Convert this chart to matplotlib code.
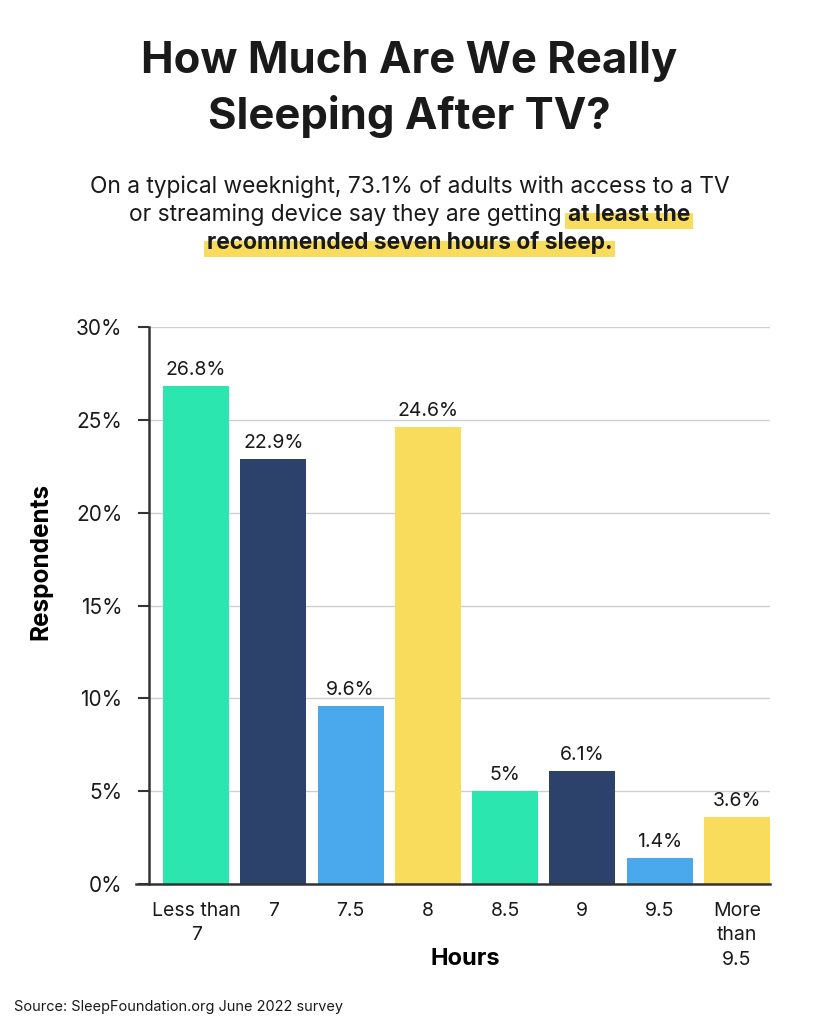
import matplotlib
matplotlib.use("Agg")
import matplotlib.pyplot as plt
from matplotlib.patches import Rectangle

# data
categories = ["Less than\n7", "7", "7.5", "8", "8.5", "9", "9.5", "More\nthan\n9.5"]
values = [26.8, 22.9, 9.6, 24.6, 5.0, 6.1, 1.4, 3.6]
value_labels = ["26.8%", "22.9%", "9.6%", "24.6%", "5%", "6.1%", "1.4%", "3.6%"]
yticks = [0, 5, 10, 15, 20, 25, 30]
ytick_labels = ["0%", "5%", "10%", "15%", "20%", "25%", "30%"]

teal = "#2ce6b0"
navy = "#2c426b"
blue = "#4aa8ec"
yellow = "#f9dc5c"
bar_colors = [teal, navy, blue, yellow, teal, navy, blue, yellow]

plt.rcParams['font.family'] = ['Inter', 'DejaVu Sans']

W, H = 819, 1024
fig = plt.figure(figsize=(W / 100, H / 100), dpi=100)
fig.patch.set_facecolor("white")

ax = fig.add_axes([149 / W, 1 - 884 / H, 621 / W, 557 / H])
x = list(range(len(categories)))
ax.bar(x, values, width=0.855, color=bar_colors, zorder=3)
for xi, v, lab in zip(x, values, value_labels):
    ax.annotate(lab, (xi, v), xytext=(0, 5), textcoords="offset points",
                ha="center", va="bottom", fontsize=14, color="#1a1a1a")

ax.set_xlim(-0.61, 7.43)
ax.set_ylim(0, 30)
ax.set_yticks(yticks)
ax.set_yticklabels(ytick_labels, fontsize=15, color="#1a1a1a")
ax.set_xticks(x)
ax.set_xticklabels(categories, fontsize=14, color="#1a1a1a", linespacing=1.45, va="top")
ax.tick_params(axis="y", length=8, width=1.5, color="#333333", pad=11)
ax.tick_params(axis="x", length=0, pad=13)
ax.grid(axis="y", color="#cfcfcf", linewidth=1, zorder=0)
for s in ["top", "right"]:
    ax.spines[s].set_visible(False)
ax.spines["left"].set_color("#333333")
ax.spines["left"].set_linewidth(1.8)
ax.spines["bottom"].set_color("#333333")
ax.spines["bottom"].set_linewidth(1.8)
ax.spines["bottom"].set_bounds(-0.78, 7.43)
ax.spines["bottom"].set_zorder(4)

ax.set_ylabel("Respondents", fontsize=17.5, fontweight="bold")
ax.set_xlabel("Hours", fontsize=17, fontweight="bold")
ax.yaxis.set_label_coords(-0.155, 0.58)
ax.xaxis.set_label_coords(0.51, -0.115)

# title
fig.text(0.5, 1 - 62 / H, "How Much Are We Really", ha="center", va="center",
         fontsize=31.4, fontweight="bold", color="#1a1a1a")
fig.text(0.5, 1 - 117 / H, "Sleeping After TV?", ha="center", va="center",
         fontsize=31.4, fontweight="bold", color="#1a1a1a")

# subtitle with highlighted bold parts
sub_fs = 16.4
fig.text(0.5, 1 - 187 / H, "On a typical weeknight, 73.1% of adults with access to a TV",
         ha="center", va="center", fontsize=sub_fs, color="#1a1a1a")

renderer = fig.canvas.get_renderer()
part_a = "or streaming device say they are getting "
part_b = "at least the"
ta = fig.text(0, 1 - 215 / H, part_a, ha="left", va="center", fontsize=sub_fs, color="#1a1a1a")
tb = fig.text(0, 1 - 215 / H, part_b, ha="left", va="center", fontsize=sub_fs,
              fontweight="bold", color="#1a1a1a", zorder=3)
wa = ta.get_window_extent(renderer).width
wb = tb.get_window_extent(renderer).width
x0 = (W - wa - wb) / 2
ta.set_x(x0 / W)
tb.set_x((x0 + wa) / W)

tc = fig.text(0.5, 1 - 243 / H, "recommended seven hours of sleep.", ha="center", va="center",
              fontsize=sub_fs, fontweight="bold", color="#1a1a1a", zorder=3)
wc = tc.get_window_extent(renderer).width

def highlight(xl, w, yc):
    fig.patches.append(Rectangle((xl / W - 3 / W, 1 - (yc + 14) / H), (w + 6) / W, 16 / H,
                                 transform=fig.transFigure, facecolor=yellow,
                                 edgecolor="none", zorder=1))

highlight(x0 + wa, wb, 215)
highlight((W - wc) / 2, wc, 243)

fig.text(14 / W, 1 - 1007 / H, "Source: SleepFoundation.org June 2022 survey",
         ha="left", va="center", fontsize=10.45, color="#1a1a1a")

fig.savefig("out.png", dpi=100)
